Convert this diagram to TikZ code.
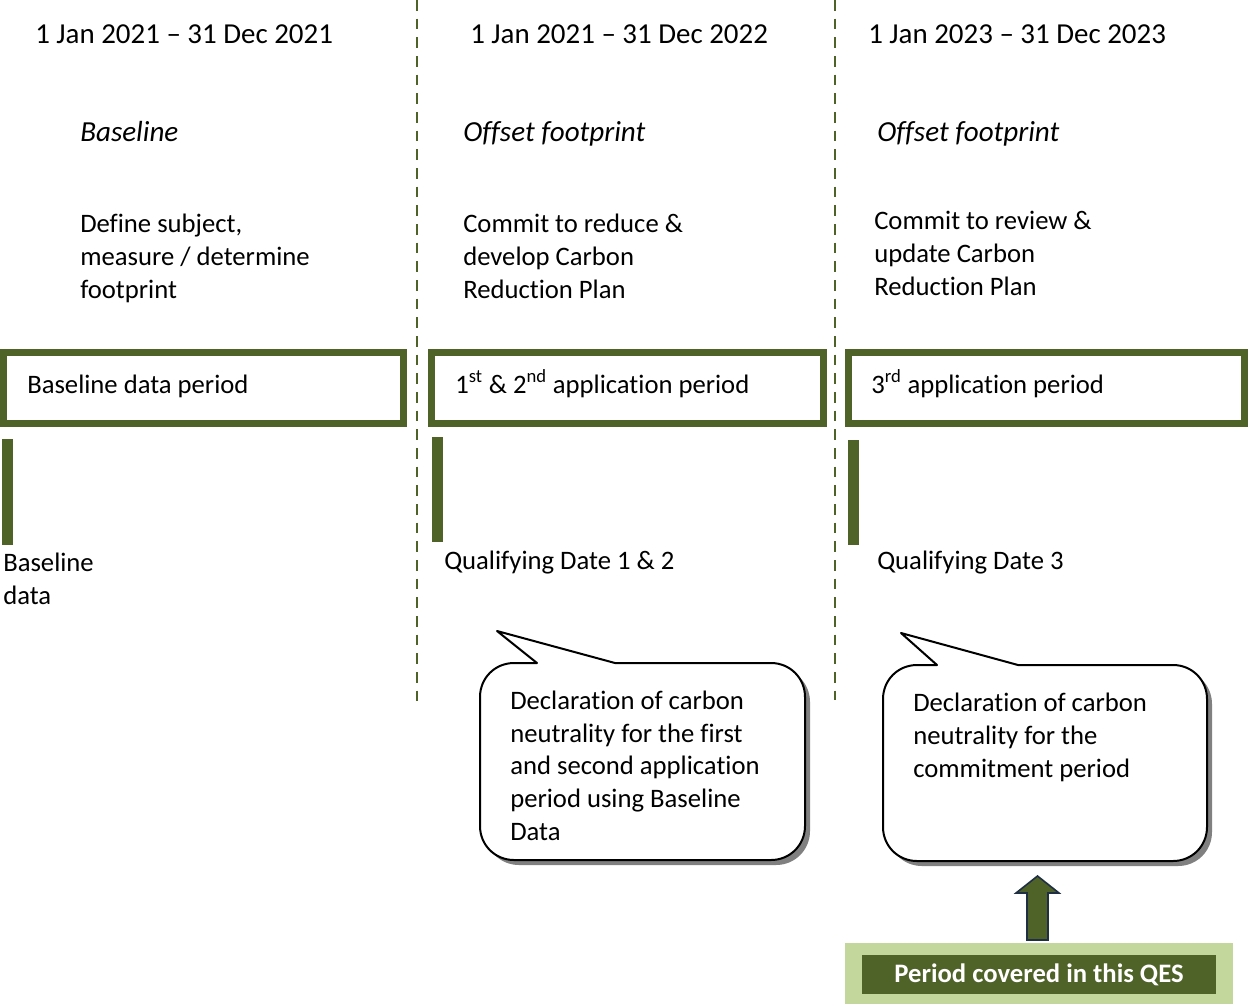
\documentclass[tikz,border=0pt]{standalone}
\usepackage{fontspec}
\setmainfont{Carlito}[Ligatures=NoCommon]
\definecolor{olive}{HTML}{4F6228}
\definecolor{lightolive}{HTML}{C3D69B}
\definecolor{arrownavy}{HTML}{1F2F44}
\definecolor{shadowgray}{HTML}{808080}
\newcommand{\calloutpathspec}[8]{(#5,#2) -- (#6,#7) -- (#8,#2) -- ({#3-34},#2) .. controls ({#3-15},#2) and (#3,{#2+15}) .. (#3,{#2+34}) -- (#3,{#4-34}) .. controls (#3,{#4-15}) and ({#3-15},#4) .. ({#3-34},#4) -- ({#1+34},#4) .. controls ({#1+15},#4) and (#1,{#4-15}) .. (#1,{#4-34}) -- (#1,{#2+34}) .. controls (#1,{#2+15}) and ({#1+15},#2) .. ({#1+34},#2) -- cycle}
\newcommand{\calloutshape}[8]{%
  \fill[shadowgray, shift={(5,5)}] (#5,#2) -- (#6,#7) -- (#8,#2) -- ({#3-34},#2) .. controls ({#3-15},#2) and (#3,{#2+15}) .. (#3,{#2+34}) -- (#3,{#4-34}) .. controls (#3,{#4-15}) and ({#3-15},#4) .. ({#3-34},#4) -- ({#1+34},#4) .. controls ({#1+15},#4) and (#1,{#4-15}) .. (#1,{#4-34}) -- (#1,{#2+34}) .. controls (#1,{#2+15}) and ({#1+15},#2) .. ({#1+34},#2) -- cycle;
  \draw[fill=white, line width=1.5pt, line join=round] (#5,#2) -- (#6,#7) -- (#8,#2) -- ({#3-34},#2) .. controls ({#3-15},#2) and (#3,{#2+15}) .. (#3,{#2+34}) -- (#3,{#4-34}) .. controls (#3,{#4-15}) and ({#3-15},#4) .. ({#3-34},#4) -- ({#1+34},#4) .. controls ({#1+15},#4) and (#1,{#4-15}) .. (#1,{#4-34}) -- (#1,{#2+34}) .. controls (#1,{#2+15}) and ({#1+15},#2) .. ({#1+34},#2) -- cycle;}
\begin{document}
\begin{tikzpicture}[x=0.75pt,y=-0.75pt,
  txt/.style={font=\fontsize{20}{24.4}\selectfont, inner sep=0pt, anchor=base west, align=left},
  hdr/.style={txt, font=\fontsize{21.7}{26}\selectfont},
  ital/.style={txt, font=\fontsize{21.8}{26}\selectfont\itshape},
  periodbox/.style={draw=olive, line width=5.25pt, fill=white},
  marker/.style={fill=olive, draw=none},
  divider/.style={draw=olive, line width=2.2pt, dash pattern=on 8pt off 6pt}]
\useasboundingbox (0,0) rectangle (1248,1004);

% dividers
\draw[divider] (417,0) -- (417,703);
\draw[divider] (835,0) -- (835,700);

% headers
\node[hdr] (h1) at (35,43) {1 Jan 2021 – 31 Dec 2021};
\node[hdr] (h2) at (470,43) {1 Jan 2021 – 31 Dec 2022};
\node[hdr] (h3) at (868,43) {1 Jan 2023 – 31 Dec 2023};

\node[ital] (i1) at (80,141) {Baseline};
\node[ital] (i2) at (463,141) {Offset footprint};
\node[ital] (i3) at (877,141) {Offset footprint};

% multi-line nodes: base anchor = baseline of last line
\node[txt] (d1) at (80,298) {Define subject,\\measure / determine\\footprint};
\node[txt] (d2) at (463,298) {Commit to reduce \&\\develop Carbon\\Reduction Plan};
\node[txt] (d3) at (874,295) {Commit to review \&\\update Carbon\\Reduction Plan};

% period boxes
\draw[periodbox] (3.5,352.5) rectangle (403.5,423.5);
\draw[periodbox] (431,352.5) rectangle (823.5,423.5);
\draw[periodbox] (848,352.5) rectangle (1244.5,423.5);
\node[txt] (p1) at (27,393) {Baseline data period};
\node[txt] (p2) at (455,393) {1\textsuperscript{st} \& 2\textsuperscript{nd} application period};
\node[txt] (p3) at (871,393) {3\textsuperscript{rd} application period};

% markers
\fill[marker] (2,439) rectangle (13,545);
\fill[marker] (432,437) rectangle (443,542);
\fill[marker] (848,440) rectangle (859,545);
\node[txt] (q1) at (3,604.5) {Baseline\\data};
\node[txt] (q2) at (444,569) {Qualifying Date 1 \& 2};
\node[txt] (q3) at (877,569) {Qualifying Date 3};

% callouts
\calloutshape{480}{663}{805}{860}{537}{497}{631}{615}
\calloutshape{883}{665}{1207}{861}{937}{901}{633}{1018}
\node[txt] (c1) at (510,840) {Declaration of carbon\\neutrality for the first\\and second application\\period using Baseline\\Data};
\node[txt] (c2) at (913,777) {Declaration of carbon\\neutrality for the\\commitment period};

% QES box
\fill[lightolive] (845,943) rectangle (1233,1004);
\node[fill=olive, text=white, font=\fontsize{20}{24.4}\selectfont\bfseries, minimum width=354*0.75pt, minimum height=39*0.75pt, inner sep=0pt] (qes) at (1039,974.5) {Period covered in this QES};

% arrow
\draw[fill=olive, draw=arrownavy, line width=1.2pt, line join=miter] (1027,940) -- (1027,893) -- (1016,893) -- (1037.5,876) -- (1059,893) -- (1048,893) -- (1048,940) -- cycle;
\end{tikzpicture}
\end{document}
